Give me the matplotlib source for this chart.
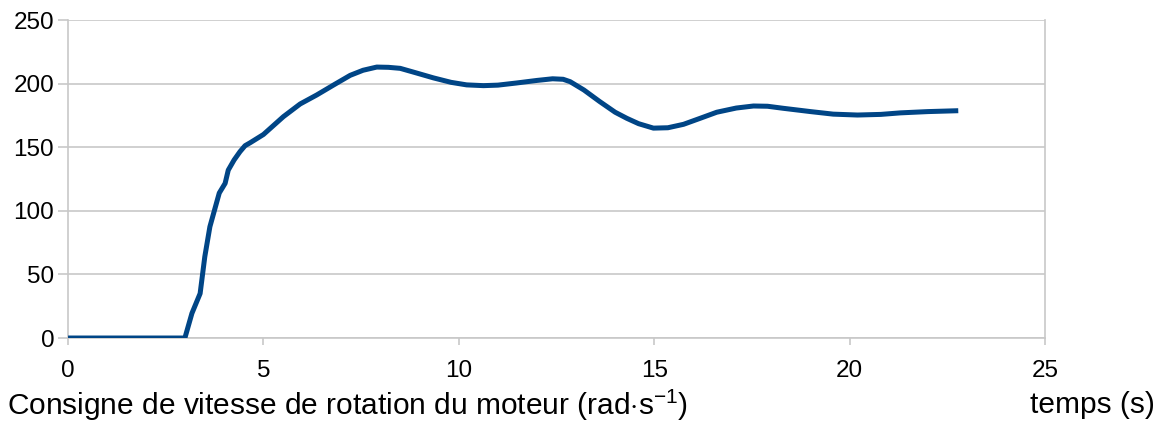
import matplotlib.pyplot as plt

plt.rcParams['font.family'] = ['Liberation Sans', 'DejaVu Sans']
plt.rcParams['mathtext.fontset'] = 'custom'
plt.rcParams['mathtext.rm'] = 'Liberation Sans'
plt.rcParams['mathtext.it'] = 'Liberation Sans'

# vitesse de rotation du moteur
t = [0, 1, 2, 2.99, 3.17, 3.38, 3.5, 3.63, 3.87, 4.02, 4.1, 4.25, 4.4, 4.53,
     4.66, 5.0, 5.51, 5.94, 6.36, 6.8, 7.22, 7.55, 7.9, 8.2, 8.5, 8.9, 9.35,
     9.8, 10.2, 10.63, 11.0, 11.48, 12.0, 12.4, 12.67, 12.85, 13.2, 13.6,
     14.0, 14.3, 14.6, 14.98, 15.35, 15.75, 16.2, 16.6, 17.1, 17.54, 17.9,
     18.3, 19.0, 19.58, 20.2, 20.8, 21.3, 22.0, 22.78]
w = [0, 0, 0, 0, 19.4, 35, 64, 87.5, 114, 121.6, 132, 140, 146.5, 151.2,
     153.5, 160, 174, 184, 191, 199, 206.5, 210.5, 213, 212.8, 212, 208.5,
     204.5, 201, 199, 198.4, 198.8, 200.5, 202.5, 203.8, 203.4, 201.5, 195,
     186, 177.5, 172.7, 168.5, 165, 165.3, 168, 173, 177.5, 180.8, 182.4,
     182.2, 180.6, 178, 176, 175.3, 175.8, 177, 178, 178.7]

xticks = [0, 5, 10, 15, 20, 25]
yticks = [0, 50, 100, 150, 200, 250]

fig = plt.figure(figsize=(11.61, 4.23), dpi=100)
ax = fig.add_axes([0.0586, 0.2009, 0.8415, 0.7518])

ax.plot(t, w, '-', color='#004586', linewidth=3.6, solid_joinstyle='round',
        solid_capstyle='butt', zorder=3)

ax.set_xlim(0, 25)
ax.set_ylim(0, 250)
ax.set_xticks(xticks)
ax.set_yticks(yticks)
ax.grid(axis='y', color='#c8c8c8', linewidth=1.2)
ax.tick_params(axis='both', labelsize=17.5, colors='#c8c8c8', labelcolor='black', width=1.2)
ax.tick_params(axis='y', length=7, pad=3)
ax.tick_params(axis='x', length=5, pad=11)

for s in ['left', 'bottom', 'right', 'top']:
    ax.spines[s].set_color('#c8c8c8')
    ax.spines[s].set_linewidth(1.2)
ax.spines['top'].set_visible(False)

fig.text(0.995, 0.043, 'temps (s)', fontsize=21.5, ha='right', va='center')
fig.text(0.006, 0.0, r'Consigne de vitesse de rotation du moteur (rad$\cdot$s$^{-1}$)',
         fontsize=21.5, ha='left', va='bottom')

fig.savefig('out.png', dpi=100)
